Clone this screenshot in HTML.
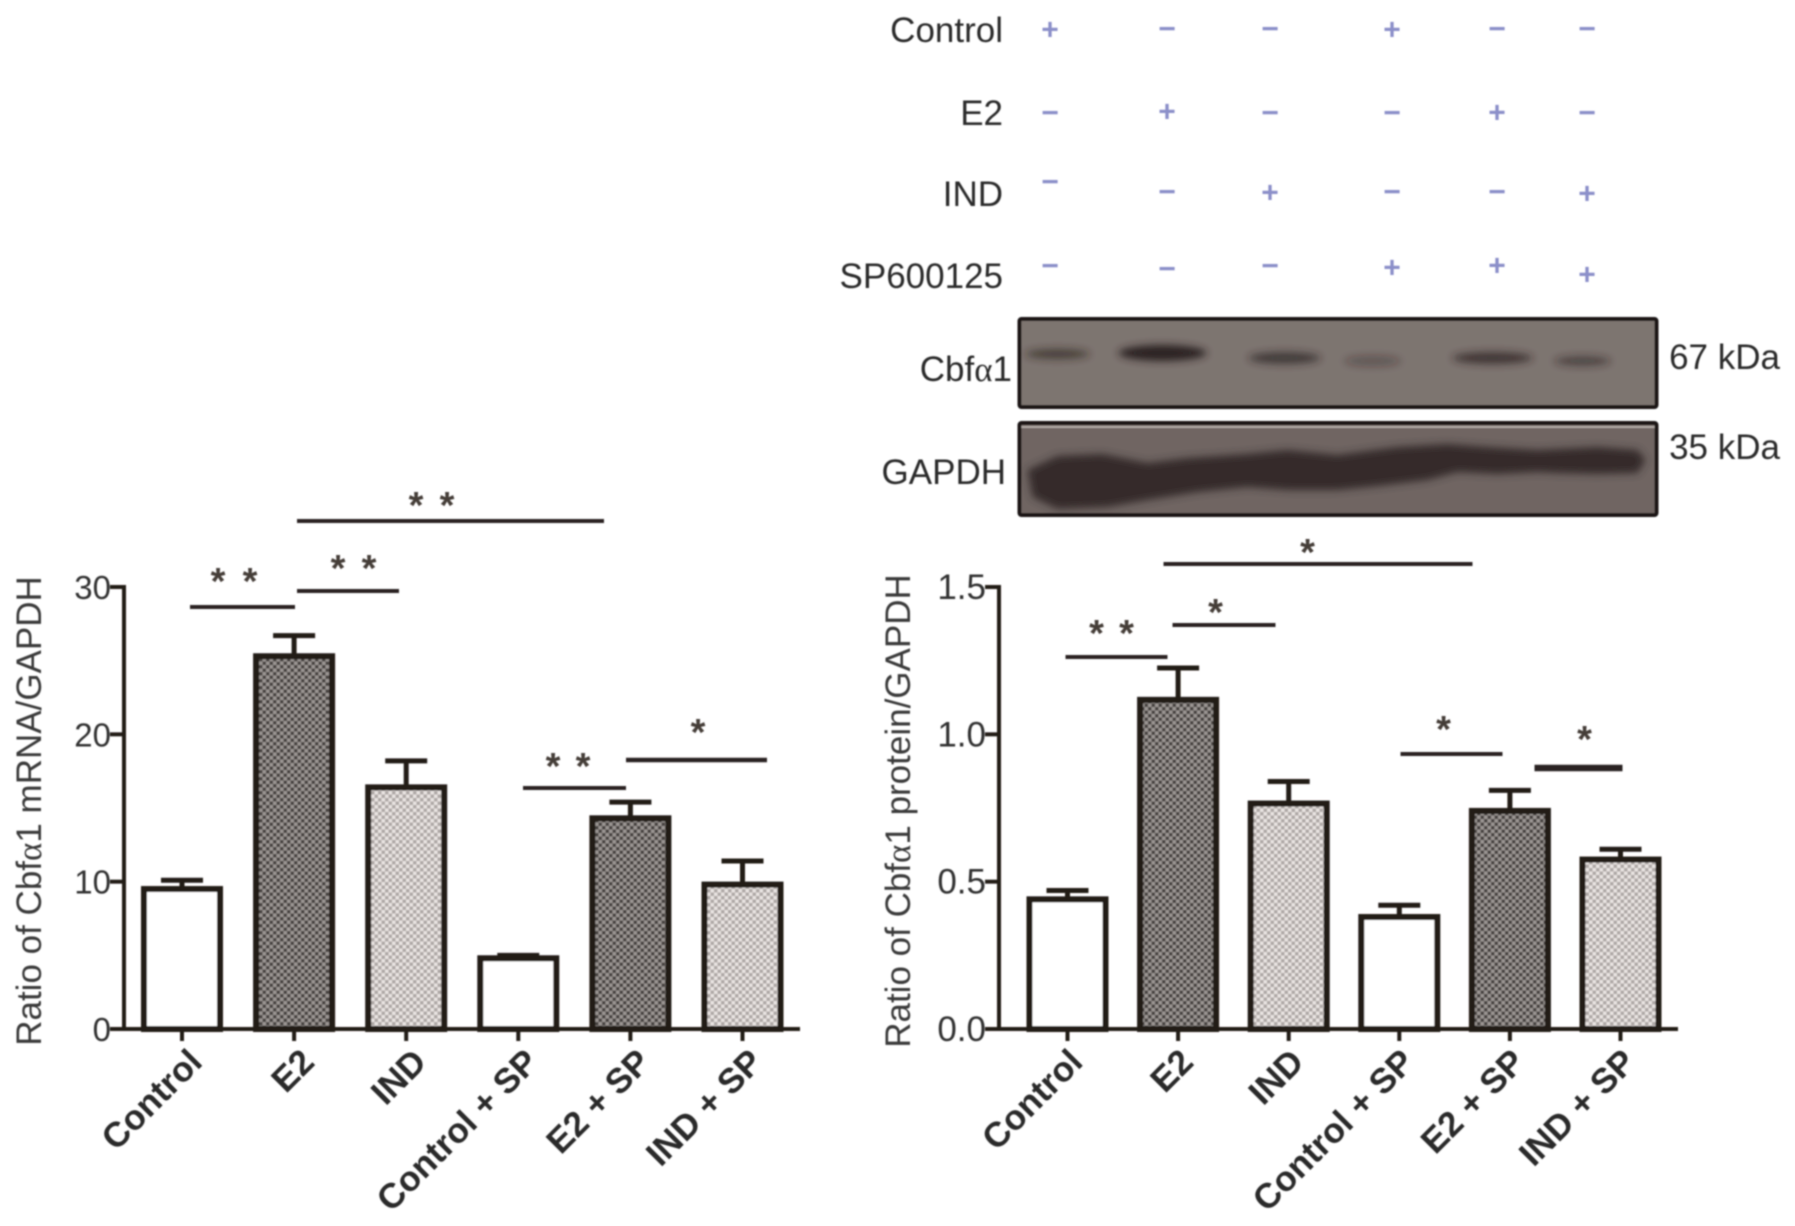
<!DOCTYPE html>
<html lang="en">
<head>
<meta charset="utf-8">
<title>Cbfα1 expression</title>
<style>
html,body{margin:0;padding:0;background:#fff;}
svg{display:block;}
text{font-family:"Liberation Sans",sans-serif;}
.row{font-size:35px;fill:#2b2b2b;text-anchor:end;}
.sign{font-size:30px;font-weight:bold;fill:#8b8fc9;text-anchor:middle;dominant-baseline:central;}
.star{font-size:38px;font-weight:bold;fill:#453c38;text-anchor:middle;}
.sig{stroke:#2a2420;stroke-width:4;}
</style>
</head>
<body>
<svg id="fig" xmlns="http://www.w3.org/2000/svg" width="1795" height="1226" viewBox="0 0 1795 1226">
<defs>
<pattern id="dark" patternUnits="userSpaceOnUse" width="7" height="7"><rect width="7" height="7" fill="#9a9492"/><rect width="3.5" height="3.5" fill="#4a4442"/><rect x="3.5" y="3.5" width="3.5" height="3.5" fill="#4a4442"/></pattern>
<pattern id="light" patternUnits="userSpaceOnUse" width="7" height="7"><rect width="7" height="7" fill="#e8e3e1"/><rect width="3.5" height="3.5" fill="#aea8a6"/><rect x="3.5" y="3.5" width="3.5" height="3.5" fill="#aea8a6"/></pattern>
<filter id="soft" x="-5%" y="-5%" width="110%" height="110%"><feGaussianBlur stdDeviation="0.9"/></filter>
<filter id="band" x="-30%" y="-60%" width="160%" height="220%"><feGaussianBlur stdDeviation="4"/></filter>
</defs>
<g id="root" filter="url(#soft)">

<g>
<text class="row" x="1003" y="42">Control</text>
<text class="row" x="1003" y="125">E2</text>
<text class="row" x="1003" y="206">IND</text>
<text class="row" x="1003" y="288">SP600125</text>
<g transform="translate(-2,1)">
<text class="sign" x="1052" y="29">+</text>
<text class="sign" x="1169" y="28">−</text>
<text class="sign" x="1272" y="28">−</text>
<text class="sign" x="1394" y="29">+</text>
<text class="sign" x="1499" y="28">−</text>
<text class="sign" x="1589" y="28">−</text>
<text class="sign" x="1052" y="112">−</text>
<text class="sign" x="1169" y="111">+</text>
<text class="sign" x="1272" y="112">−</text>
<text class="sign" x="1394" y="112">−</text>
<text class="sign" x="1499" y="112">+</text>
<text class="sign" x="1589" y="112">−</text>
<text class="sign" x="1052" y="181">−</text>
<text class="sign" x="1169" y="191">−</text>
<text class="sign" x="1272" y="192">+</text>
<text class="sign" x="1394" y="191">−</text>
<text class="sign" x="1499" y="191">−</text>
<text class="sign" x="1589" y="193">+</text>
<text class="sign" x="1052" y="265">−</text>
<text class="sign" x="1169" y="268">−</text>
<text class="sign" x="1272" y="265">−</text>
<text class="sign" x="1394" y="267">+</text>
<text class="sign" x="1499" y="265">+</text>
<text class="sign" x="1589" y="274">+</text>
</g>
</g>

<g>
<g transform="translate(-2.5,0)">
<g>
<rect x="1022" y="319" width="637" height="88" fill="#7d7470"/>
<g filter="url(#band)" fill="#2b2321">
<ellipse cx="1060" cy="354" rx="32" ry="5" opacity=".65"/>
<ellipse cx="1165" cy="353" rx="44" ry="8"/>
<ellipse cx="1287" cy="358" rx="36" ry="6" opacity=".7"/>
<ellipse cx="1375" cy="361" rx="28" ry="5" opacity=".35"/>
<ellipse cx="1495" cy="358" rx="40" ry="6" opacity=".75"/>
<ellipse cx="1585" cy="361" rx="28" ry="5" opacity=".55"/>
</g>
<rect x="1022" y="319" width="637" height="88" rx="2" fill="none" stroke="#1b1412" stroke-width="4"/>
</g>
<g>
<rect x="1022" y="423" width="637" height="92" fill="#6f6562"/>
<rect x="1024" y="426" width="633" height="2" fill="#b0a8a4"/>
<path filter="url(#band)" fill="#352c2a" d="M1030 470L1060 456L1105 454L1150 463L1190 458L1250 454L1290 450L1340 455L1400 447L1450 444L1490 447L1540 450L1600 447L1640 450L1648 460L1640 473L1600 474L1560 473L1540 472L1500 474L1460 472L1430 480L1380 486L1340 490L1290 490L1250 487L1200 492L1150 500L1110 507L1060 509L1035 497Z"/>
<rect x="1022" y="423" width="637" height="92" rx="2" fill="none" stroke="#1b1412" stroke-width="4"/>
</g>
</g>
<text class="row" x="1012" y="381">Cbf<tspan font-family="Liberation Serif, serif">α</tspan>1</text>
<text class="row" x="1006" y="484">GAPDH</text>
<text class="row" x="1780" y="369">67 kDa</text>
<text class="row" x="1780" y="459">35 kDa</text>
</g>

<g id="chartA"></g>
<g id="chartB"></g>

<g>
<line class="sig" x1="190" x2="295" y1="607" y2="607"/>
<line class="sig" x1="297" x2="399" y1="591" y2="591"/>
<line class="sig" x1="297" x2="604" y1="521" y2="521"/>
<line class="sig" x1="523" x2="626" y1="788" y2="788"/>
<line class="sig" x1="626" x2="767" y1="760" y2="760" style="stroke-width:4.5"/>
<text class="star" x="218" y="594">*</text>
<text class="star" x="250" y="594">*</text>
<text class="star" x="338" y="581">*</text>
<text class="star" x="369" y="581">*</text>
<text class="star" x="416" y="518">*</text>
<text class="star" x="447" y="518">*</text>
<text class="star" x="553" y="779">*</text>
<text class="star" x="583" y="779">*</text>
<text class="star" x="698" y="745">*</text>
</g>
<g transform="translate(-2.5,0)">
<line class="sig" x1="1068" x2="1170" y1="657" y2="657"/>
<line class="sig" x1="1175" x2="1278" y1="625" y2="625"/>
<line class="sig" x1="1166" x2="1475" y1="564" y2="564"/>
<line class="sig" x1="1403" x2="1505" y1="754" y2="754"/>
<line class="sig" x1="1537" x2="1625" y1="768" y2="768" style="stroke-width:6.5"/>
<text class="star" x="1099" y="646">*</text>
<text class="star" x="1129" y="646">*</text>
<text class="star" x="1218" y="625">*</text>
<text class="star" x="1310" y="565">*</text>
<text class="star" x="1446" y="742">*</text>
<text class="star" x="1587" y="752">*</text>
</g>
</g>
</svg>
<script>
const categories = ["Control", "E2", "IND", "Control + SP", "E2 + SP", "IND + SP"];
const barFills = ["#ffffff", "url(#dark)", "url(#light)", "#ffffff", "url(#dark)", "url(#light)"];
const mrnaValues = [9.5, 25.3, 16.4, 4.8, 14.3, 9.8];
const mrnaErrorTops = [10.1, 26.7, 18.2, 5.0, 15.4, 11.4];
const mrnaTicks = [0, 10, 20, 30];
const mrnaTickLabels = ["0", "10", "20", "30"];
const proteinValues = [0.44, 1.117, 0.765, 0.38, 0.74, 0.575];
const proteinErrorTops = [0.47, 1.225, 0.84, 0.42, 0.81, 0.61];
const proteinTicks = [0, 0.5, 1.0, 1.5];
const proteinTickLabels = ["0.0", "0.5", "1.0", "1.5"];

const NS = "http://www.w3.org/2000/svg";
const INK = "#231c19";

function mk(parent, tag, attrs) {
  const el = document.createElementNS(NS, tag);
  for (const k in attrs) el.setAttribute(k, attrs[k]);
  parent.appendChild(el);
  return el;
}

function drawChart(cfg) {
  const g = document.getElementById(cfg.id);
  const y = v => cfg.y0 - (v / cfg.yMax) * (cfg.y0 - cfg.yTop);
  const x = i => cfg.x0 + i * cfg.step;
  const barW = 76;

  cfg.values.forEach((v, i) => {
    const stem = mk(g, "line", {x1: x(i), x2: x(i), y1: y(v), y2: y(cfg.errs[i]), stroke: INK, "stroke-width": 5});
    
    
    const cap = mk(g, "line", {x1: x(i) - 21, x2: x(i) + 21, y1: y(cfg.errs[i]), y2: y(cfg.errs[i]), stroke: INK, "stroke-width": 5});
    
    
    const bar = mk(g, "rect", {x: x(i) - barW / 2, y: y(v), width: barW, height: cfg.y0 - y(v), fill: barFills[i], stroke: INK, "stroke-width": 6});
    
    
  });

  const yAxis = mk(g, "line", {x1: cfg.axisX, x2: cfg.axisX, y1: y(cfg.yMax) - 2, y2: cfg.y0 + 2, stroke: INK, "stroke-width": 4});
  
  
  const xAxis = mk(g, "line", {x1: cfg.axisX - 14, x2: cfg.axisEnd, y1: cfg.y0, y2: cfg.y0, stroke: INK, "stroke-width": 4});
  
  

  cfg.ticks.forEach((t, i) => {
    const tick = mk(g, "line", {x1: cfg.axisX - 14, x2: cfg.axisX, y1: y(t), y2: y(t), stroke: INK, "stroke-width": 4});
    
    
    const lab = mk(g, "text", {x: cfg.axisX - 13, y: y(t) + 12, "text-anchor": "end", "font-size": cfg.tickFont, fill: "#333"});
    
    
    lab.textContent = cfg.tickLabels[i];
  });

  categories.forEach((c, i) => {
    const tick = mk(g, "line", {x1: x(i), x2: x(i), y1: cfg.y0, y2: cfg.y0 + 12, stroke: INK, "stroke-width": 4});
    
    
    const lx = x(i) + cfg.labelDx, ly = cfg.y0 + 35;
    const lab = mk(g, "text", {x: lx, y: ly, "text-anchor": "end", "font-size": 35, "font-weight": "bold", fill: "#2a2a2a", transform: "rotate(-45 " + lx + " " + ly + ")"});
    
    
    lab.textContent = c;
  });

  const tx = cfg.titleX, ty = (cfg.y0 + cfg.yTop) / 2 + 3;
  const title = mk(g, "text", {x: tx, y: ty, "text-anchor": "middle", "font-size": 35, fill: "#3a3a3a", transform: "rotate(-90 " + tx + " " + ty + ")"});
  
  
  const t1 = mk(title, "tspan", {});
  t1.textContent = "Ratio of Cbf";
  const t2 = mk(title, "tspan", {"font-family": "Liberation Serif, serif"});
  t2.textContent = "α";
  const t3 = mk(title, "tspan", {});
  t3.textContent = "1 " + cfg.titleEnd;
}

drawChart({id: "chartA", values: mrnaValues, errs: mrnaErrorTops, ticks: mrnaTicks, tickLabels: mrnaTickLabels, yMax: 30, y0: 1029, yTop: 587, x0: 182, step: 112.1, axisX: 124, axisEnd: 800, titleX: 41, titleEnd: "mRNA/GAPDH", tickFont: 33, labelDx: 22});
drawChart({id: "chartB", values: proteinValues, errs: proteinErrorTops, ticks: proteinTicks, tickLabels: proteinTickLabels, yMax: 1.5, y0: 1029, yTop: 587, x0: 1067.5, step: 110.6, axisX: 999, axisEnd: 1678, titleX: 910, titleEnd: "protein/GAPDH", tickFont: 35, labelDx: 17});
</script>
</body>
</html>
